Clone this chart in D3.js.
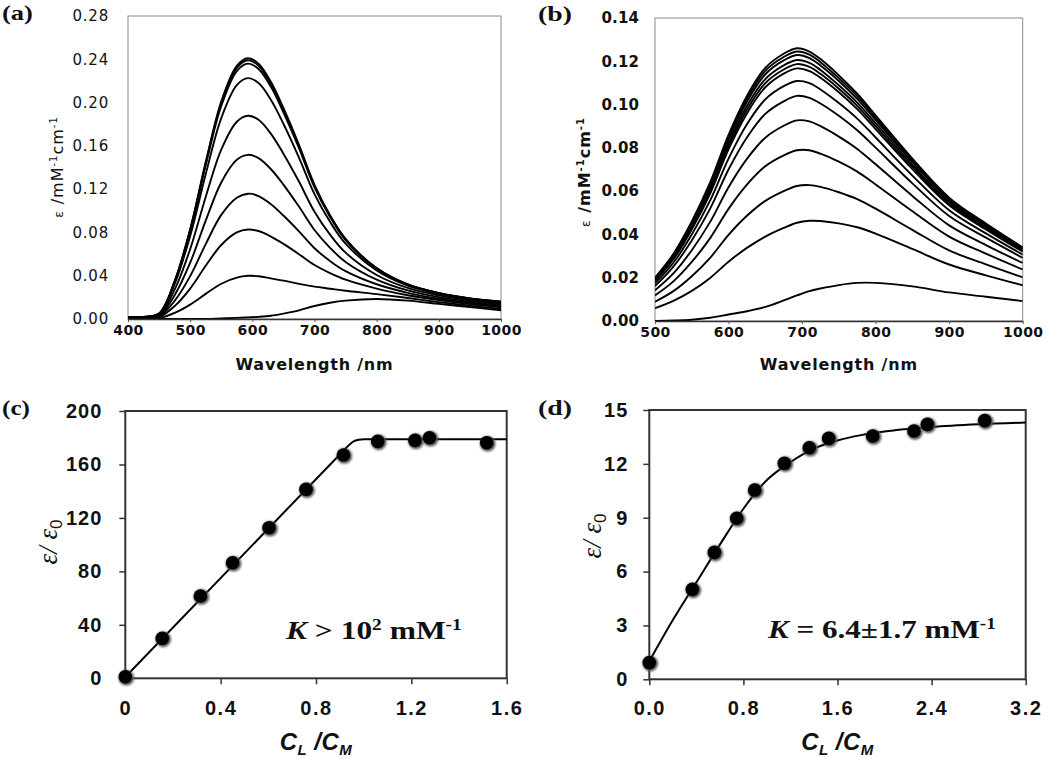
<!DOCTYPE html>
<html><head><meta charset="utf-8">
<script src="https://cdnjs.cloudflare.com/ajax/libs/d3/7.8.5/d3.min.js"></script>
<style>body{margin:0;background:#fff}</style>
</head><body>
<svg id="fig" width="1050" height="759" xmlns="http://www.w3.org/2000/svg"></svg>
<script>
// ---------------- DATA ----------------
// Panel (a): wavelengths (nm) and molar absorptivity spectra (mM^-1 cm^-1)
const wlA = [400,425,450,475,500,525,550,575,593,610,630,650,675,700,725,750,800,850,900,950,1000];
const a1  = [0.002,0.002,0.005,0.035,0.083,0.145,0.201,0.234,0.241,0.236,0.219,0.195,0.161,0.124,0.096,0.074,0.047,0.032,0.024,0.019,0.016];
const a2  = [0.002,0.002,0.005,0.0347,0.0823,0.1438,0.1994,0.2321,0.2391,0.2341,0.2173,0.1934,0.1597,0.1231,0.0953,0.0736,0.0468,0.0319,0.0239,0.0189,0.0159];
const a3  = [0.002,0.002,0.005,0.0343,0.0813,0.1420,0.1968,0.2291,0.2360,0.2311,0.2145,0.1910,0.1578,0.1217,0.0943,0.0728,0.0464,0.0317,0.0238,0.0188,0.0158];
const a4  = [0.002,0.002,0.0046,0.0323,0.0766,0.1338,0.1856,0.2161,0.2226,0.2180,0.2024,0.1804,0.1492,0.1154,0.0898,0.0696,0.0448,0.0308,0.0232,0.0184,0.0154];
const a5  = [0.0016,0.0016,0.0039,0.0272,0.0646,0.1128,0.1565,0.1823,0.1878,0.1841,0.1711,0.1528,0.1270,0.0991,0.0780,0.0613,0.0407,0.0287,0.0218,0.0172,0.0142];
const a6  = [0.0013,0.0013,0.0031,0.0219,0.0520,0.0909,0.1262,0.1471,0.1517,0.1487,0.1384,0.1242,0.1039,0.0822,0.0658,0.0527,0.0364,0.0264,0.0202,0.0160,0.0130];
const a7  = [0.001,0.001,0.0024,0.0167,0.0396,0.0692,0.0962,0.1121,0.1158,0.1136,0.1061,0.0956,0.0810,0.0654,0.0536,0.0442,0.0321,0.0242,0.0187,0.0149,0.0118];
const a8  = [0.0007,0.0007,0.0017,0.0119,0.0281,0.0492,0.0684,0.0800,0.0827,0.0813,0.0762,0.0694,0.0599,0.0499,0.0424,0.0363,0.0281,0.0220,0.0174,0.0137,0.0107];
const a9  = [0.0003,0.0003,0.0008,0.0056,0.0133,0.0232,0.0326,0.0382,0.0399,0.0395,0.0375,0.0354,0.0325,0.0299,0.0280,0.0261,0.0230,0.0194,0.0156,0.0122,0.0093];
const a10 = [0,0,0,0,0,0,0.0005,0.001,0.0015,0.002,0.003,0.005,0.008,0.012,0.015,0.017,0.0185,0.017,0.014,0.011,0.008];
const xTicksA = [400,500,600,700,800,900,1000];
const yTicksA = [0,0.04,0.08,0.12,0.16,0.20,0.24,0.28];

// Panel (b)
const wlB = [500,525,550,575,600,625,650,675,693,710,725,750,775,800,850,900,950,1000];
const b1  = [0.020,0.031,0.046,0.064,0.086,0.104,0.117,0.1235,0.126,0.1245,0.121,0.1135,0.105,0.095,0.075,0.057,0.045,0.034];
const b2  = [0.0197,0.0306,0.0454,0.0632,0.0849,0.1027,0.1156,0.1220,0.1245,0.1231,0.1196,0.1122,0.1039,0.0940,0.0742,0.0564,0.0446,0.0337];
const b3  = [0.0195,0.0302,0.0448,0.0623,0.0838,0.1013,0.1140,0.1204,0.1229,0.1215,0.1181,0.1109,0.1026,0.0929,0.0734,0.0558,0.0441,0.0333];
const b4  = [0.0191,0.0296,0.0439,0.0611,0.0821,0.0993,0.1118,0.1181,0.1206,0.1193,0.1160,0.1089,0.1009,0.0914,0.0722,0.0549,0.0434,0.0328];
const b5  = [0.0187,0.0290,0.0431,0.0600,0.0807,0.0976,0.1099,0.1162,0.1187,0.1174,0.1142,0.1073,0.0994,0.0900,0.0712,0.0542,0.0428,0.0324];
const b6  = [0.0184,0.0285,0.0423,0.0589,0.0793,0.0959,0.1080,0.1143,0.1167,0.1155,0.1124,0.1057,0.0979,0.0887,0.0702,0.0535,0.0423,0.0320];
const b7  = [0.0174,0.0269,0.0400,0.0557,0.0750,0.0909,0.1024,0.1085,0.1109,0.1099,0.1070,0.1007,0.0935,0.0848,0.0672,0.0512,0.0405,0.0307];
const b8  = [0.0161,0.0251,0.0372,0.0519,0.0700,0.0848,0.0957,0.1015,0.1040,0.1031,0.1005,0.0948,0.0881,0.0801,0.0636,0.0485,0.0385,0.0292];
const b9  = [0.0142,0.0220,0.0327,0.0458,0.0618,0.0749,0.0847,0.0902,0.0927,0.0922,0.0900,0.0852,0.0795,0.0724,0.0578,0.0442,0.0351,0.0268];
const b10 = [0.0118,0.0183,0.0273,0.0383,0.0518,0.0630,0.0715,0.0765,0.0789,0.0789,0.0773,0.0736,0.0690,0.0631,0.0507,0.0390,0.0311,0.0238];
const b11 = [0.0089,0.0138,0.0207,0.0292,0.0398,0.0486,0.0555,0.0600,0.0624,0.0628,0.0620,0.0595,0.0563,0.0519,0.0421,0.0326,0.0262,0.0202];
const b12 = [0.0059,0.0093,0.0139,0.0199,0.0274,0.0338,0.0390,0.0430,0.0454,0.0463,0.0462,0.0451,0.0433,0.0404,0.0333,0.0261,0.0211,0.0165];
const b13 = [0.000,0.0002,0.0006,0.0015,0.003,0.0045,0.0065,0.0095,0.0118,0.0138,0.015,0.0166,0.0176,0.0176,0.016,0.0132,0.0112,0.0092];
const xTicksB = [500,600,700,800,900,1000];
const yTicksB = [0,0.02,0.04,0.06,0.08,0.10,0.12,0.14];

// Panel (c): titration points and fit
const cX = [0,0.155,0.315,0.450,0.603,0.758,0.915,1.059,1.215,1.276,1.516];
const cY = [1.2,29.9,61.6,86.5,112.7,141.4,167.1,177.3,178,180,176.3];
const cFitX = [0,0.90,0.93,0.955,0.98,1.0,1.6];
const cFitY = [1,167.5,173,177,178.5,178.8,178.8];
const xTicksC = [0,0.4,0.8,1.2,1.6];
const yTicksC = [0,40,80,120,160,200];

// Panel (d)
const dX = [0,0.366,0.553,0.743,0.896,1.148,1.36,1.525,1.899,2.25,2.364,2.851];
const dY = [0.93,5.01,7.07,8.97,10.54,12.03,12.9,13.42,13.55,13.83,14.2,14.41];
const dFitX = [0,0.2,0.4,0.6,0.8,1.0,1.2,1.4,1.6,1.8,2.0,2.4,2.8,3.2];
const dFitY = [1.0,3.3,5.4,7.5,9.5,11.1,12.1,12.85,13.3,13.6,13.8,14.05,14.2,14.3];
const xTicksD = [0,0.8,1.6,2.4,3.2];
const yTicksD = [0,3,6,9,12,15];

// ---------------- DRAWING ----------------
const svg = d3.select("#fig");
const SANS = "'DejaVu Sans', Verdana, sans-serif";
const ARIAL = "'Liberation Sans', Arial, sans-serif";
const SERIF = "'Liberation Serif', 'Times New Roman', serif";

const defs = svg.append("defs");
defs.append("filter").attr("id","soft").attr("x","-50%").attr("y","-50%").attr("width","200%").attr("height","200%")
  .append("feGaussianBlur").attr("stdDeviation",1.1);

function stretched(x, y, targetW, build) {
  const g = svg.append("g").attr("transform", `translate(${x},${y})`);
  const t = g.append("text").attr("x",0).attr("y",0);
  build(t);
  const w = t.node().getBBox().width;
  if (w > 0) t.attr("transform", `scale(${targetW / w},1)`);
  return t;
}

function spectrumPanel(o) {
  const x = d3.scaleLinear().domain(o.xDom).range(o.xR);
  const y = d3.scaleLinear().domain(o.yDom).range(o.yR);
  const g = svg.append("g");
  const clipId = "clip" + o.xDom[0];
  defs.append("clipPath").attr("id", clipId).append("rect")
    .attr("x",o.xR[0]).attr("y",o.yR[1]).attr("width",o.xR[1]-o.xR[0]).attr("height",o.yR[0]-o.yR[1]+0.5);
  g.append("rect").attr("x",o.xR[0]).attr("y",o.yR[1]).attr("width",o.xR[1]-o.xR[0]).attr("height",o.yR[0]-o.yR[1])
    .attr("fill","none").attr("stroke","#8a8a8a").attr("stroke-width",1);
  const line = d3.line().x((d)=>x(d[0])).y((d)=>y(d[1])).curve(d3.curveCatmullRom.alpha(0.5));
  const cg = g.append("g").attr("clip-path", `url(#${clipId})`);
  o.series.forEach(s => {
    cg.append("path").datum(o.wl.map((w,i)=>[w,s[i]])).attr("d",line)
      .attr("fill","none").attr("stroke","#000").attr("stroke-width",1.9);
  });
  const gx = g.append("g").attr("transform",`translate(0,${o.yR[0]})`)
    .call(d3.axisBottom(x).tickValues(o.xTicks).tickSize(3).tickSizeOuter(0).tickPadding(3).tickFormat(d3.format("d")));
  gx.select(".domain").attr("stroke","#333").attr("stroke-width",1.3);
  gx.selectAll(".tick line").attr("stroke","#555");
  gx.selectAll("text").attr("font-family",SANS).attr("font-size",14).attr("font-weight","bold")
    .attr("letter-spacing",0.4).attr("fill","#111");
  const gy = g.append("g").attr("transform",`translate(${o.xR[0]},0)`)
    .call(d3.axisLeft(y).tickValues(o.yTicks).tickSize(0).tickPadding(o.yPad).tickFormat(d3.format(".2f")));
  gy.select(".domain").remove();
  gy.selectAll("text").attr("font-family",SANS).attr("font-size",15).attr("font-weight",o.yBold?"bold":"normal")
    .attr("letter-spacing",o.yBold?0.1:0.8).attr("fill","#111");
  g.append("text").attr("x",(o.xR[0]+o.xR[1])/2).attr("y",370).attr("text-anchor","middle")
    .attr("font-family",SANS).attr("font-size",16).attr("font-weight","bold").attr("letter-spacing",0.8)
    .attr("fill","#111").text("Wavelength /nm");
  const yt = g.append("text").attr("transform",`translate(${o.yTitleX},${o.yTitleY}) rotate(-90)`)
    .attr("text-anchor","middle").attr("font-family",SANS).attr("font-size",16)
    .attr("font-weight",o.yBold?"bold":"normal").attr("letter-spacing",1).attr("fill","#111");
  yt.append("tspan").attr("font-size",12).attr("font-weight","normal").text("ε");
  yt.append("tspan").text(" /mM");
  yt.append("tspan").attr("font-size",10).attr("dy",-6).text("-1");
  yt.append("tspan").attr("dy",6).text("cm");
  yt.append("tspan").attr("font-size",10).attr("dy",-6).text("-1");
}

spectrumPanel({xDom:[400,1000], yDom:[0,0.28], xR:[128,501], yR:[319,16], wl:wlA,
  series:[a10,a9,a8,a7,a6,a5,a4,a3,a2,a1], xTicks:xTicksA, yTicks:yTicksA, yPad:19, yBold:false,
  yTitleX:63, yTitleY:167});
spectrumPanel({xDom:[500,1000], yDom:[0,0.14], xR:[655,1022.7], yR:[321,18], wl:wlB,
  series:[b13,b12,b11,b10,b9,b8,b7,b6,b5,b4,b3,b2,b1], xTicks:xTicksB, yTicks:yTicksB, yPad:16, yBold:true,
  yTitleX:590, yTitleY:172});

function titrationPanel(o) {
  const x = d3.scaleLinear().domain(o.xDom).range(o.xR);
  const y = d3.scaleLinear().domain(o.yDom).range(o.yR);
  const g = svg.append("g");
  g.append("rect").attr("x",o.xR[0]).attr("y",o.yR[1]).attr("width",o.xR[1]-o.xR[0]).attr("height",o.yR[0]-o.yR[1])
    .attr("fill","none").attr("stroke","#333").attr("stroke-width",2);
  const gx = g.append("g").attr("transform",`translate(0,${o.yR[0]})`)
    .call(d3.axisBottom(x).tickValues(o.xTicks).tickSize(6).tickSizeOuter(0).tickPadding(o.xPad).tickFormat(o.xFmt));
  gx.select(".domain").remove();
  gx.selectAll(".tick line").attr("stroke","#333").attr("stroke-width",1.5);
  gx.selectAll("text").attr("font-family",ARIAL).attr("font-size",20).attr("font-weight","bold")
    .attr("letter-spacing",1.5).attr("fill","#111");
  const gy = g.append("g").attr("transform",`translate(${o.xR[0]},0)`)
    .call(d3.axisLeft(y).tickValues(o.yTicks).tickSize(6).tickSizeOuter(0).tickPadding(o.yPad).tickFormat(d3.format("d")));
  gy.select(".domain").remove();
  gy.selectAll(".tick line").attr("stroke","#333").attr("stroke-width",1.5);
  gy.selectAll("text").attr("font-family",ARIAL).attr("font-size",20).attr("font-weight","bold")
    .attr("letter-spacing",1).attr("fill","#111");
  const line = d3.line().x(d=>x(d[0])).y(d=>y(d[1])).curve(d3.curveMonotoneX);
  g.append("path").datum(o.fitX.map((v,i)=>[v,o.fitY[i]])).attr("d",line)
    .attr("fill","none").attr("stroke","#000").attr("stroke-width",2);
  const pts = o.px.map((v,i)=>[v,o.py[i]]);
  g.selectAll("circle.h").data(pts).join("circle").attr("class","h")
    .attr("cx",d=>x(d[0])+1).attr("cy",d=>y(d[1])+1).attr("r",7.8).attr("fill","#555").attr("filter","url(#soft)");
  g.selectAll("circle.m").data(pts).join("circle").attr("class","m")
    .attr("cx",d=>x(d[0])).attr("cy",d=>y(d[1])).attr("r",6.8).attr("fill","#000");
  const xt = g.append("text").attr("x",(o.xR[0]+o.xR[1])/2).attr("y",750).attr("text-anchor","middle")
    .attr("font-family",ARIAL).attr("font-size",24).attr("font-weight","bold").attr("font-style","italic")
    .attr("letter-spacing",0.5).attr("fill","#111");
  xt.append("tspan").text("C");
  xt.append("tspan").attr("font-size",15).attr("dy",5).text("L");
  xt.append("tspan").attr("dy",-5).text(" /C");
  xt.append("tspan").attr("font-size",15).attr("dy",5).text("M");
  const yt = g.append("text").attr("transform",`translate(${o.yTitleX},${o.yTitleY}) rotate(-90)`)
    .attr("text-anchor","middle").attr("font-family",SERIF).attr("font-size",27).attr("font-style","italic")
    .attr("fill","#111");
  yt.append("tspan").text("ε/ ε");
  yt.append("tspan").attr("font-size",17).attr("dy",5).attr("font-style","normal").attr("font-family",ARIAL).text("0");
}

titrationPanel({xDom:[0,1.6], yDom:[0,200], xR:[125.3,506.7], yR:[678.3,411],
  xTicks:xTicksC, yTicks:yTicksC, xPad:17, yPad:17,
  xFmt:(d)=> d===0 ? "0" : d3.format(".1f")(d),
  px:cX, py:cY, fitX:cFitX, fitY:cFitY, yTitleX:57, yTitleY:542});
titrationPanel({xDom:[0,3.2], yDom:[0,15], xR:[649.3,1025.7], yR:[679.3,410],
  xTicks:xTicksD, yTicks:yTicksD, xPad:16, yPad:15,
  xFmt:d3.format(".1f"),
  px:dX, py:dY, fitX:dFitX, fitY:dFitY, yTitleX:601, yTitleY:536});

function letter(x, y, w, s) {
  stretched(x, y, w, t => t.attr("font-family",SERIF).attr("font-size",22).attr("font-weight","bold")
    .attr("fill","#111").text(s));
}
letter(2, 20, 31, "(a)");
letter(538, 21, 34, "(b)");
letter(2, 415, 28, "(c)");
letter(538, 415, 34, "(d)");

stretched(286, 639, 177, t => {
  t.attr("font-family",SERIF).attr("font-size",26).attr("font-weight","bold").attr("fill","#111");
  t.append("tspan").attr("font-style","italic").text("K");
  t.append("tspan").text(" > 10");
  t.append("tspan").attr("font-size",16).attr("dy",-9).text("2");
  t.append("tspan").attr("dy",9).text(" mM");
  t.append("tspan").attr("font-size",16).attr("dy",-9).text("-1");
});
stretched(768, 638, 229, t => {
  t.attr("font-family",SERIF).attr("font-size",26).attr("font-weight","bold").attr("fill","#111");
  t.append("tspan").attr("font-style","italic").text("K");
  t.append("tspan").text(" = 6.4±1.7 mM");
  t.append("tspan").attr("font-size",16).attr("dy",-9).text("-1");
});
</script>
</body></html>
